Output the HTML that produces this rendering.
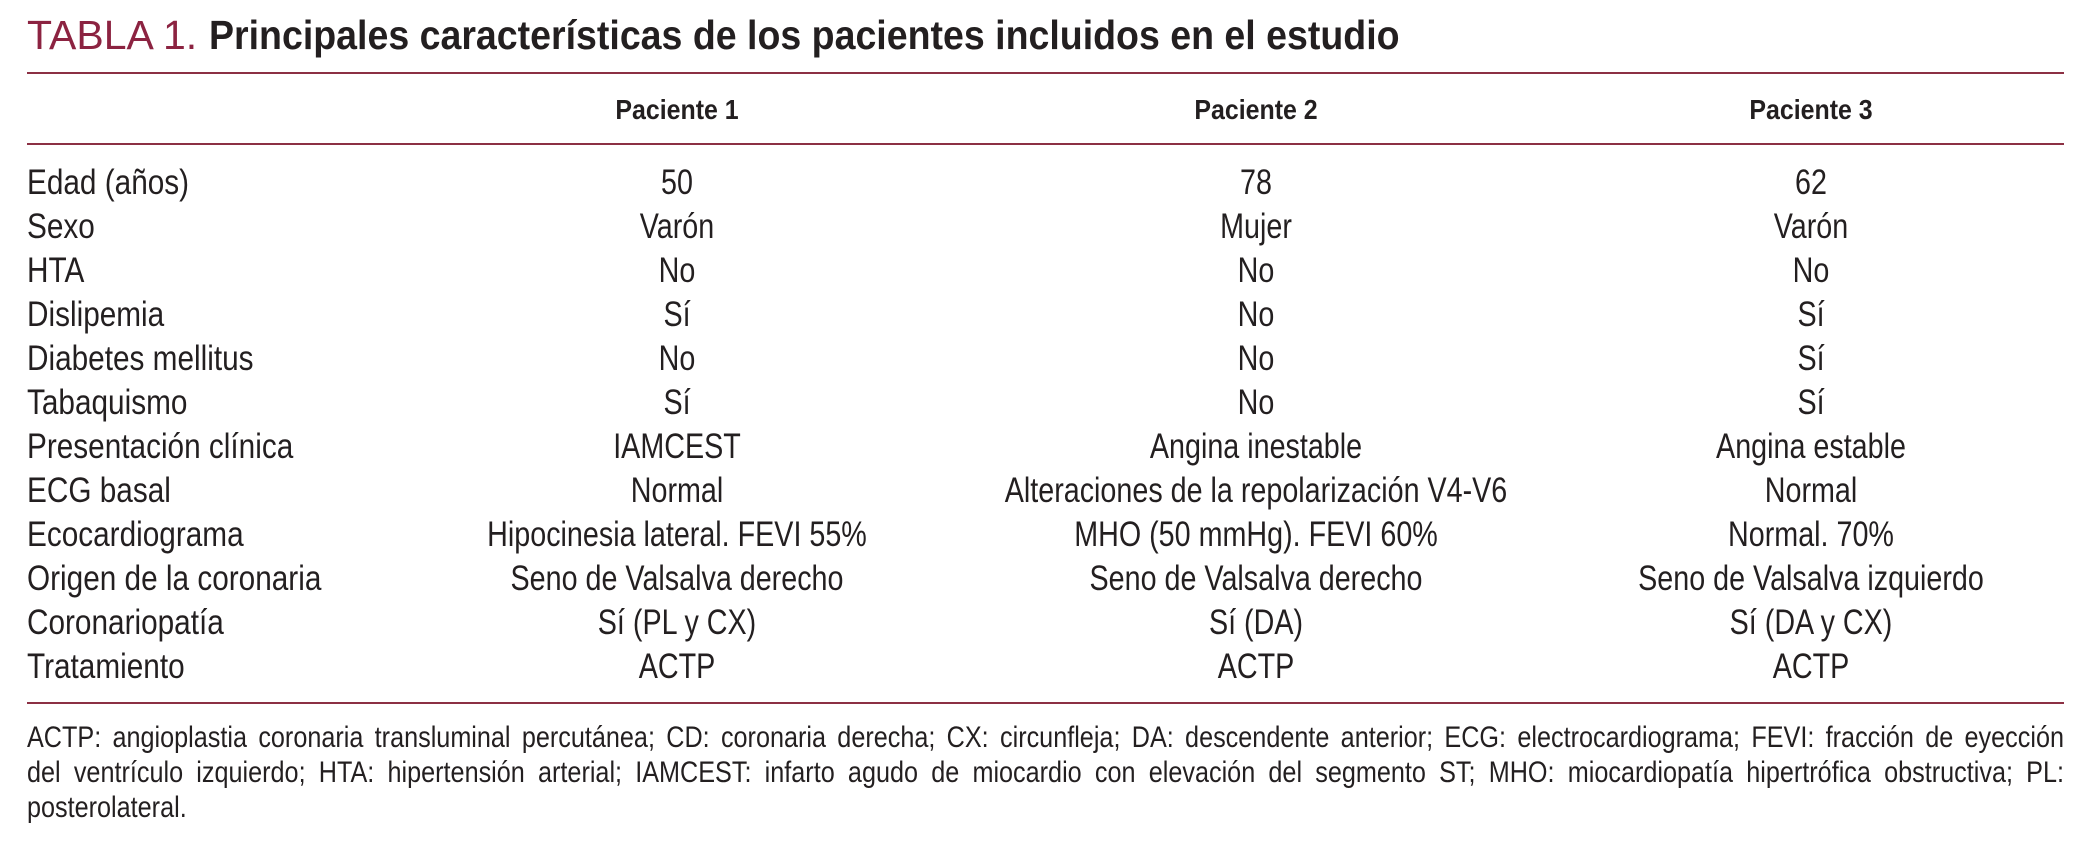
<!DOCTYPE html>
<html><head><meta charset="utf-8"><style>
body{margin:0;width:2079px;height:858px;background:#fff;position:relative;overflow:hidden;font-family:"Liberation Sans",sans-serif;color:#231f20}
.a{position:absolute;white-space:nowrap}
.t{top:12px;left:27px;font-size:41px;line-height:46px;transform-origin:0 0}
.t .r{color:#8c2341}.t b{font-weight:bold;display:inline-block;transform:scaleX(0.915);transform-origin:0 0}
.ln{position:absolute;left:27px;width:2037px;height:2px;background:#8c3044}
.h{font-weight:bold;font-size:28px;line-height:34px;transform:translateX(-50%) scaleX(0.89)}
.c{font-size:35px;line-height:40px;transform:translateX(-50%) scaleX(0.82)}
.l{font-size:35px;line-height:40px;left:27px;transform:scaleX(0.85);transform-origin:0 0}
.fn{position:absolute;left:27px;width:2425px;font-size:30px;line-height:34px;white-space:nowrap;text-align:justify;text-align-last:justify;transform:scaleX(0.84);transform-origin:0 0}
.fn.last{text-align-last:left}
</style></head><body>
<div class="a t"><span class="r">TABLA 1.</span> <b>Principales características de los pacientes incluidos en el estudio</b></div>
<div class="ln" style="top:72px"></div>
<div class="a h" style="left:677px;top:93px">Paciente 1</div>
<div class="a h" style="left:1256px;top:93px">Paciente 2</div>
<div class="a h" style="left:1811px;top:93px">Paciente 3</div>
<div class="ln" style="top:143px"></div>
<div id="rows"></div>
<div class="ln" style="top:702px"></div>
<div class="fn" style="top:721px">ACTP: angioplastia coronaria transluminal percutánea; CD: coronaria derecha; CX: circunfleja; DA: descendente anterior; ECG: electrocardiograma; FEVI: fracción de eyección</div>
<div class="fn" style="top:756px">del ventrículo izquierdo; HTA: hipertensión arterial; IAMCEST: infarto agudo de miocardio con elevación del segmento ST; MHO: miocardiopatía hipertrófica obstructiva; PL:</div>
<div class="fn last" style="top:791px">posterolateral.</div>
<script>
const labels=["Edad (años)","Sexo","HTA","Dislipemia","Diabetes mellitus","Tabaquismo","Presentación clínica","ECG basal","Ecocardiograma","Origen de la coronaria","Coronariopatía","Tratamiento"];
const p1=["50","Varón","No","Sí","No","Sí","IAMCEST","Normal","Hipocinesia lateral. FEVI 55%","Seno de Valsalva derecho","Sí (PL y CX)","ACTP"];
const p2=["78","Mujer","No","No","No","No","Angina inestable","Alteraciones de la repolarización V4-V6","MHO (50 mmHg). FEVI 60%","Seno de Valsalva derecho","Sí (DA)","ACTP"];
const p3=["62","Varón","No","Sí","Sí","Sí","Angina estable","Normal","Normal. 70%","Seno de Valsalva izquierdo","Sí (DA y CX)","ACTP"];
const root=document.getElementById('rows');
const cx=[677,1256,1811];
labels.forEach((lab,i)=>{
  const top=163+i*44;
  const d=document.createElement('div');
  d.className='a l';d.style.top=top+'px';d.textContent=lab;
  
  
  root.appendChild(d);
  [p1,p2,p3].forEach((arr,j)=>{
    const c=document.createElement('div');
    c.className='a c';c.style.top=top+'px';c.style.left=cx[j]+'px';c.textContent=arr[i];
    
    
    root.appendChild(c);
  });
});
</script>
</body></html>
